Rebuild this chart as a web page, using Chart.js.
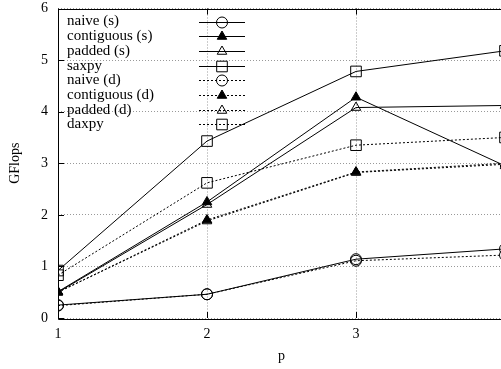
<!DOCTYPE html>
<html>
<head>
<meta charset="utf-8">
<script src="https://cdn.jsdelivr.net/npm/chart.js@4/dist/chart.umd.min.js"></script>
<style>
  html, body { margin: 0; padding: 0; background: #fff; overflow: hidden; }
  #wrap { width: 520px; height: 369px; }
</style>
</head>
<body>
<div id="wrap"><canvas id="myChart" width="520" height="369"></canvas></div>
<script>
// data
const pValues = [1, 2, 3, 4];
const naiveS = [0.25, 0.46, 1.14, 1.34];
const contiguousS = [0.51, 2.25, 4.28, 2.95];
const paddedS = [0.5, 2.2, 4.08, 4.12];
const saxpy = [0.92, 3.43, 4.78, 5.18];
const naiveD = [0.24, 0.46, 1.11, 1.22];
const contiguousD = [0.5, 1.9, 2.83, 3.0];
const paddedD = [0.5, 1.88, 2.82, 2.98];
const daxpy = [0.83, 2.62, 3.35, 3.5];
const yTicks = [0, 1, 2, 3, 4, 5, 6];
const xTicks = [1, 2, 3, 4];

const FONT = 'Liberation Serif, Times New Roman, serif';
const clear = 'rgba(0,0,0,0)';

function series(label, values, style, filled, dashed, radius) {
  return {
    label: label,
    data: values.map((v, i) => ({ x: pValues[i], y: v })),
    borderColor: '#000',
    backgroundColor: filled ? '#000' : clear,
    pointBackgroundColor: filled ? '#000' : clear,
    pointBorderColor: '#000',
    pointStyle: style,
    pointRadius: radius,
    pointBorderWidth: 1,
    borderWidth: 1,
    borderDash: dashed ? [2, 2] : [],
    tension: 0,
    fill: false,
  };
}

const datasets = [
  series('naive (s)', naiveS, 'circle', false, false, 5.5),
  series('contiguous (s)', contiguousS, 'triangle', true, false, 5.5),
  series('padded (s)', paddedS, 'triangle', false, false, 5.5),
  series('saxpy', saxpy, 'rect', false, false, 7.5),
  series('naive (d)', naiveD, 'circle', false, true, 5.5),
  series('contiguous (d)', contiguousD, 'triangle', true, true, 5.5),
  series('padded (d)', paddedD, 'triangle', false, true, 5.5),
  series('daxpy', daxpy, 'rect', false, true, 7.5),
];

// gnuplot style frame, inner ticks and key
const gnuplotLook = {
  id: 'gnuplotLook',
  afterDraw(chart) {
    const ctx = chart.ctx;
    const a = chart.chartArea;
    const xs = chart.scales.x, ys = chart.scales.y;
    ctx.save();
    ctx.strokeStyle = '#000';
    ctx.lineWidth = 1;
    ctx.setLineDash([]);
    ctx.beginPath();
    ctx.rect(Math.round(a.left) + 0.5, Math.round(a.top) + 0.5,
      Math.round(a.right - a.left), Math.round(a.bottom - a.top));
    yTicks.forEach(v => {
      const y = Math.round(ys.getPixelForValue(v)) + 0.5;
      ctx.moveTo(a.left, y); ctx.lineTo(a.left + 6, y);
    });
    xTicks.forEach(v => {
      const x = Math.round(xs.getPixelForValue(v)) + 0.5;
      ctx.moveTo(x, a.bottom); ctx.lineTo(x, a.bottom - 6);
      ctx.moveTo(x, a.top); ctx.lineTo(x, a.top + 6);
    });
    ctx.stroke();

    // key
    const textX = 67, lineX0 = 199, lineX1 = 245, markX = 222;
    let rowY = 21.5;
    ctx.font = '15px ' + FONT;
    ctx.textBaseline = 'middle';
    ctx.textAlign = 'left';
    chart.data.datasets.forEach(ds => {
      ctx.fillStyle = '#000';
      ctx.fillText(ds.label, textX, rowY);
      const y = Math.round(rowY) + 0.5;
      ctx.setLineDash(ds.borderDash);
      ctx.beginPath();
      ctx.moveTo(lineX0, y); ctx.lineTo(lineX1, y);
      ctx.stroke();
      ctx.setLineDash([]);
      ctx.fillStyle = ds.pointBackgroundColor;
      ctx.strokeStyle = '#000';
      Chart.helpers.drawPoint(ctx, {
        pointStyle: ds.pointStyle, radius: ds.pointRadius, rotation: 0, borderWidth: 1
      }, markX, y);
      rowY += 14.7;
    });
    ctx.restore();
  }
};

const ctx = document.getElementById('myChart').getContext('2d');
new Chart(ctx, {
  type: 'line',
  data: { datasets: datasets },
  options: {
    responsive: false,
    animation: false,
    devicePixelRatio: 1,
    layout: { padding: { top: 0, right: 15, left: 0, bottom: 0 } },
    plugins: { legend: { display: false }, tooltip: { enabled: false } },
    scales: {
      x: {
        type: 'linear',
        min: 1, max: 4,
        afterFit(scale) { scale.height = 51; scale.paddingRight = 0; scale.paddingLeft = 0; },
        afterBuildTicks(scale) { scale.ticks = xTicks.map(v => ({ value: v })); },
        grid: { color: '#999', lineWidth: 1, drawTicks: false },
        border: { display: false, dash: [1, 2] },
        ticks: { color: '#000', padding: 8, font: { family: FONT, size: 14 } },
        title: { display: true, text: 'p', color: '#000', padding: { top: 0, bottom: 4 },
          font: { family: FONT, size: 14 } },
      },
      y: {
        min: 0, max: 6,
        afterFit(scale) { scale.width = 58; scale.paddingTop = 8; scale.paddingBottom = 0; },
        afterBuildTicks(scale) { scale.ticks = yTicks.map(v => ({ value: v })); },
        grid: { color: '#999', lineWidth: 1, drawTicks: false },
        border: { display: false, dash: [1, 2] },
        ticks: { color: '#000', padding: 10, font: { family: FONT, size: 14 } },
        title: { display: true, text: 'GFlops', color: '#000', padding: 7,
          font: { family: FONT, size: 14 } },
      },
    },
  },
  plugins: [gnuplotLook],
});
</script>
</body>
</html>
